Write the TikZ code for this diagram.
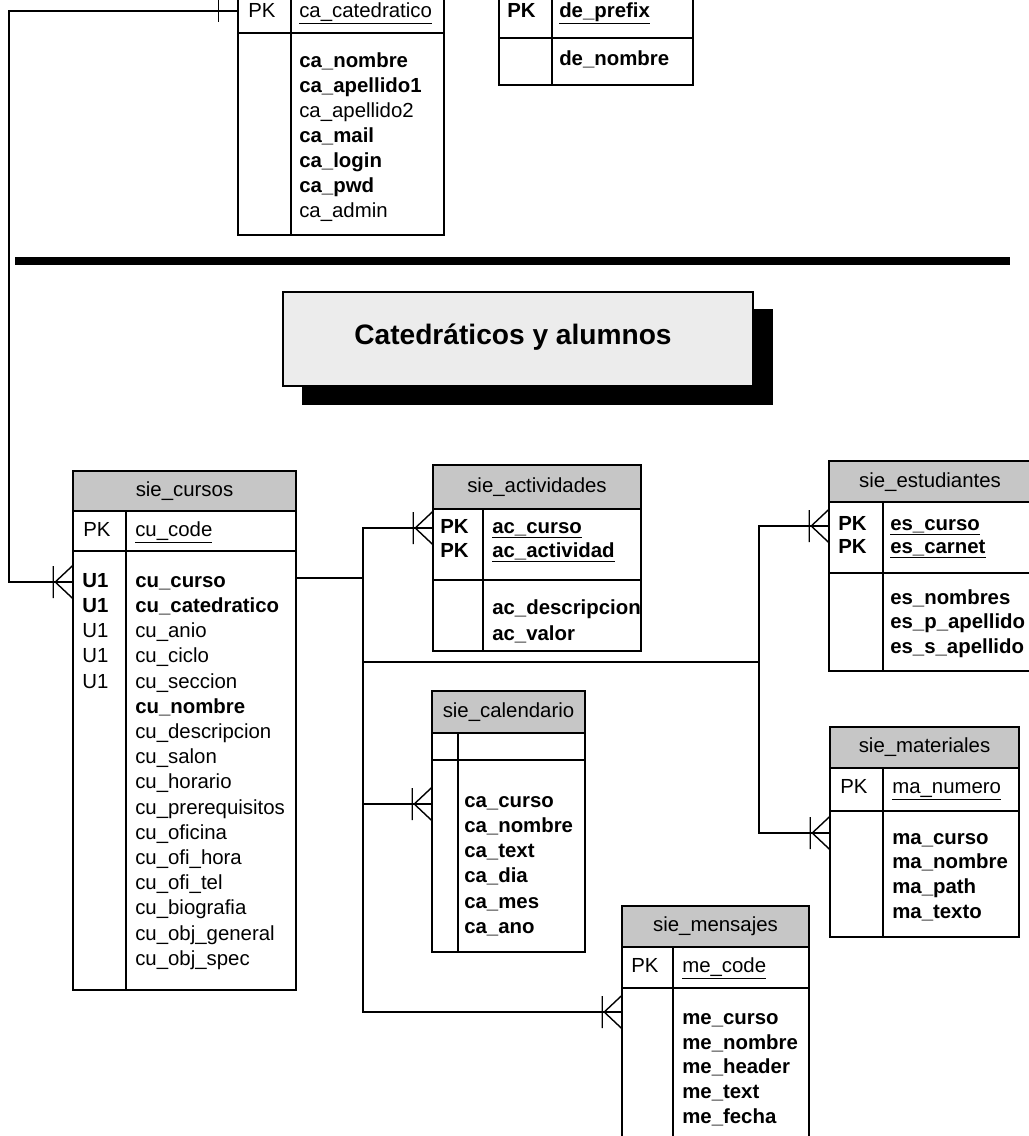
\documentclass[tikz,border=0pt]{standalone}
\usepackage{fontspec}
\setmainfont{Liberation Sans}
\usetikzlibrary{fit}

\definecolor{headgray}{RGB}{198,198,198}
\definecolor{bannergray}{RGB}{236,236,236}

\tikzset{
  edge/.style={line width=1.1pt},
  tbl/.style={draw, edge, inner sep=0pt},
  tblhead/.style={tbl, fill=headgray},
  fld/.style={anchor=west, inner sep=0pt, text height=7.5pt, text depth=0pt},
  tname/.style={inner sep=0pt, text height=7.5pt, text depth=0pt},
  rel/.style={line width=1pt},
  crow/.pic={\draw[rel] (-19,-16) -- (-19,16) (-17,0) -- (0,-16) (-17,0) -- (0,16);},
  onebar/.pic={\draw[rel] (-19,-11) -- (-19,11);}
}

\begin{document}
\begin{tikzpicture}[x=0.025cm, y=-0.025cm,
  font=\fontsize{14.5}{17}\selectfont]
  \useasboundingbox (0,0) rectangle (1028,1136);

  % catedraticos (cut at the top)
  \node[tbl, fit={(238,-5) (444,235)}] (cat) {};
  \draw[edge] (238,33) -- (444,33) (291,-5) -- (291,235);
  \node[fld] (cat-pk) at (248,12) {PK};
  \node[fld] (cat-key) at (299,12) {\underline{ca\_catedratico}};
  \foreach \f [count=\i from 0] in {\textbf{ca\_nombre}, \textbf{ca\_apellido1},
      ca\_apellido2, \textbf{ca\_mail}, \textbf{ca\_login}, \textbf{ca\_pwd}, ca\_admin}
    \node[fld] (cat-f\i) at (299,{62+25*\i}) {\f};

  % departamentos (cut at the top)
  \node[tbl, fit={(499,-5) (693,85)}] (dep) {};
  \draw[edge] (499,38) -- (693,38) (552,-5) -- (552,85);
  \node[fld] (dep-pk) at (507,12) {\textbf{PK}};
  \node[fld] (dep-key) at (559,12) {\textbf{\underline{de\_prefix}}};
  \node[fld] (dep-f0) at (559,60) {\textbf{de\_nombre}};

  % separator and banner
  \draw[line width=5pt] (15,261) -- (1010,261);
  \node[fill=black, inner sep=0pt, fit={(302,309) (773,405)}] (banner-shadow) {};
  \node[draw, edge, fill=bannergray, inner sep=0pt, fit={(283,292) (753,386)}] (banner) {};
  \node[font=\bfseries\fontsize{20}{24}\selectfont] (title) at (513,337) {Catedráticos y alumnos};

  % sie_cursos
  \node[tbl, fit={(73,471) (296,990)}] (cursos) {};
  \node[tblhead, fit={(73,471) (296,511)}] (cursos-head) {};
  \node[tname] (cursos-name) at (cursos-head) {sie\_cursos};
  \draw[edge] (73,551) -- (296,551) (126,511) -- (126,990);
  \node[fld] (cursos-pk) at (83,531) {PK};
  \node[fld] (cursos-key) at (135,531) {\underline{cu\_code}};
  \foreach \k [count=\i from 0] in {\textbf{U1}, \textbf{U1}, U1, U1, U1}
    \node[fld] (cursos-u\i) at (82,{582+25.2*\i}) {\k};
  \foreach \f [count=\i from 0] in {\textbf{cu\_curso}, \textbf{cu\_catedratico},
      cu\_anio, cu\_ciclo, cu\_seccion, \textbf{cu\_nombre}, cu\_descripcion,
      cu\_salon, cu\_horario, cu\_prerequisitos, cu\_oficina, cu\_ofi\_hora,
      cu\_ofi\_tel, cu\_biografia, cu\_obj\_general, cu\_obj\_spec}
    \node[fld] (cursos-f\i) at (135,{582+25.2*\i}) {\f};

  % sie_actividades
  \node[tbl, fit={(433,465) (641,651)}] (act) {};
  \node[tblhead, fit={(433,465) (641,509)}] (act-head) {};
  \node[tname] (act-name) at (act-head) {sie\_actividades};
  \draw[edge] (433,580) -- (641,580) (483,509) -- (483,651);
  \node[fld] (act-pk1) at (440,528) {\textbf{PK}};
  \node[fld] (act-pk2) at (440,552) {\textbf{PK}};
  \node[fld] (act-key1) at (492,528) {\textbf{\underline{ac\_curso}}};
  \node[fld] (act-key2) at (492,552) {\textbf{\underline{ac\_actividad}}};
  \node[fld] (act-f0) at (492,609) {\textbf{ac\_descripcion}};
  \node[fld] (act-f1) at (492,635) {\textbf{ac\_valor}};

  % sie_estudiantes (cut at the right)
  \node[tbl, fit={(829,461) (1040,671)}] (est) {};
  \node[tblhead, fit={(829,461) (1040,502)}] (est-head) {};
  \node[tname] (est-name) at (930,482) {sie\_estudiantes};
  \draw[edge] (829,573) -- (1040,573) (883,502) -- (883,671);
  \node[fld] (est-pk1) at (838,525) {\textbf{PK}};
  \node[fld] (est-pk2) at (838,548) {\textbf{PK}};
  \node[fld] (est-key1) at (890,525) {\textbf{\underline{es\_curso}}};
  \node[fld] (est-key2) at (890,548) {\textbf{\underline{es\_carnet}}};
  \foreach \f [count=\i from 0] in {es\_nombres, es\_p\_apellido, es\_s\_apellido}
    \node[fld] (est-f\i) at (890,{599+24.5*\i}) {\textbf{\f}};

  % sie_calendario
  \node[tbl, fit={(432,691) (585,952)}] (cal) {};
  \node[tblhead, fit={(432,691) (585,733)}] (cal-head) {};
  \node[tname] (cal-name) at (cal-head) {sie\_calendario};
  \draw[edge] (432,760) -- (585,760) (458,733) -- (458,952);
  \foreach \f [count=\i from 0] in {ca\_curso, ca\_nombre, ca\_text, ca\_dia, ca\_mes, ca\_ano}
    \node[fld] (cal-f\i) at (464,{802+25.2*\i}) {\textbf{\f}};

  % sie_materiales
  \node[tbl, fit={(830,727) (1019,937)}] (mat) {};
  \node[tblhead, fit={(830,727) (1019,768)}] (mat-head) {};
  \node[tname] (mat-name) at (mat-head) {sie\_materiales};
  \draw[edge] (830,811) -- (1019,811) (883,768) -- (883,937);
  \node[fld] (mat-pk) at (840,788) {PK};
  \node[fld] (mat-key) at (892,788) {\underline{ma\_numero}};
  \foreach \f [count=\i from 0] in {ma\_curso, ma\_nombre, ma\_path, ma\_texto}
    \node[fld] (mat-f\i) at (892,{839+24.7*\i}) {\textbf{\f}};

  % sie_mensajes (cut at the bottom)
  \node[tbl, fit={(622,906) (809,1150)}] (msg) {};
  \node[tblhead, fit={(622,906) (809,947)}] (msg-head) {};
  \node[tname] (msg-name) at (msg-head) {sie\_mensajes};
  \draw[edge] (622,988) -- (809,988) (673,947) -- (673,1150);
  \node[fld] (msg-pk) at (631,967) {PK};
  \node[fld] (msg-key) at (682,967) {\underline{me\_code}};
  \foreach \f [count=\i from 0] in {me\_curso, me\_nombre, me\_header, me\_text, me\_fecha}
    \node[fld] (msg-f\i) at (682,{1019+24.75*\i}) {\textbf{\f}};

  % relations
  \coordinate (left-bend) at (9,11);
  \coordinate (bus-top) at (363,528);
  \coordinate (bus-bottom) at (363,1012);
  \coordinate (bus-right) at (759,662);

  \draw[rel] (cat.west |- left-bend) -- (left-bend) |- (cursos.west |- 0,582);
  \path (cat.west |- left-bend) pic {onebar};
  \path (cursos.west |- 0,582) pic {crow};

  \draw[rel] (cursos.east |- 0,578) -- (bus-top |- 0,578);
  \draw[rel] (act.west |- bus-top) -- (bus-top) -- (bus-bottom) -- (msg.west |- bus-bottom);
  \draw[rel] (bus-top |- 0,804) -- (cal.west |- 0,804);
  \draw[rel] (bus-top |- bus-right) -- (bus-right);
  \draw[rel] (est.west |- 0,526) -| (bus-right) |- (mat.west |- 0,833);
  \path (act.west |- bus-top) pic {crow};
  \path (msg.west |- bus-bottom) pic {crow};
  \path (cal.west |- 0,804) pic {crow};
  \path (est.west |- 0,526) pic {crow};
  \path (mat.west |- 0,833) pic {crow};
\end{tikzpicture}
\end{document}
